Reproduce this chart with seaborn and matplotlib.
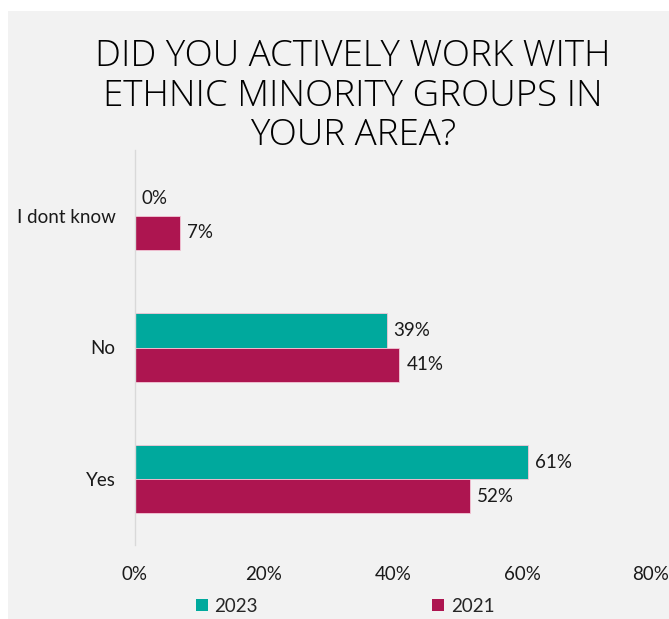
import matplotlib
matplotlib.use("Agg")
import matplotlib.pyplot as plt
import matplotlib.patches as mpatches
import seaborn as sns
import pandas as pd

# Survey answers and share of respondents (%)
categories = ["I dont know", "No", "Yes"]
years = ["2023", "2021"]
values_2023 = [0, 39, 61]
values_2021 = [7, 41, 52]
x_ticks = [0, 20, 40, 60, 80]

title = "DID YOU ACTIVELY WORK WITH\nETHNIC MINORITY GROUPS IN\nYOUR AREA?"
colors = {"2023": "#00A99D", "2021": "#AD1550"}
bg = "#F2F2F2"

df = pd.DataFrame({
    "answer": categories * 2,
    "year": [years[0]] * len(categories) + [years[1]] * len(categories),
    "share": values_2023 + values_2021,
})

sns.set_theme(style="white")
plt.rcParams["font.family"] = ["Lato", "DejaVu Sans"]

fig = plt.figure(figsize=(6.69, 6.19), dpi=100, facecolor="white")
# grey chart area with a thin white margin at top and left
fig.patches.append(mpatches.Rectangle((8 / 669, 0), 1, 1 - 11 / 619,
                                      transform=fig.transFigure,
                                      facecolor=bg, edgecolor="none", zorder=-10))

ax = fig.add_axes([135 / 669, 1 - 545 / 619, (651 - 135) / 669, (545 - 150) / 619])
ax.set_zorder(2)
ax.set_facecolor(bg)

sns.barplot(data=df, y="answer", x="share", hue="year", order=categories,
            hue_order=years, palette=colors, saturation=1, orient="h",
            width=0.52, gap=0, edgecolor="#F4C6D6", linewidth=0.6, ax=ax,
            legend=False)

for cont in ax.containers:
    ax.bar_label(cont, fmt="{:.0f}%", padding=5, fontsize=13.5, color="#1a1a1a")

ax.set_xlim(0, 80)
ax.set_ylim(2.5, -0.5)
ax.set_xticks(x_ticks)
ax.set_xticklabels([f"{t}%" for t in x_ticks])
ax.set_xlabel("")
ax.set_ylabel("")
ax.tick_params(axis="x", length=0, pad=15, labelsize=13.5, labelcolor="#1a1a1a")
ax.tick_params(axis="y", length=0, pad=14, labelsize=13.5, labelcolor="#1a1a1a")
for side in ["top", "right", "bottom"]:
    ax.spines[side].set_visible(False)
ax.spines["left"].set_color("#D9D9D9")
ax.spines["left"].set_linewidth(1.0)
ax.grid(False)

fig.text(353 / 669, 1 - 96 / 619, title, ha="center", va="center",
         fontsize=26.5, fontweight="light", color="#000000", linespacing=1.08,
         family=["Open Sans", "Lato", "DejaVu Sans"])

handles = [mpatches.Patch(facecolor=colors[y], edgecolor="none", label=y) for y in years]
fig.legend(handles=handles, loc="center", bbox_to_anchor=(345 / 669, 1 - 606 / 619),
           ncol=2, frameon=False, fontsize=13.5, handlelength=0.65, handleheight=0.65,
           handletextpad=0.35, columnspacing=9.3)

fig.savefig("out.png", dpi=100, facecolor="white")
